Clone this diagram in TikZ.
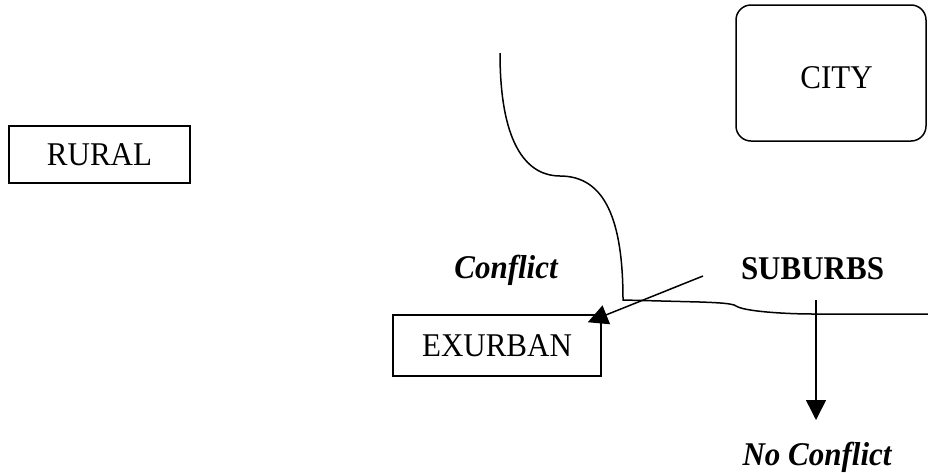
\documentclass[tikz,border=0pt]{standalone}
\usepackage{fontspec}
\usepackage{graphicx}
\setmainfont{Liberation Serif}
\usetikzlibrary{arrows.meta,calc}
\newcommand{\vst}[1]{\scalebox{1}[1.07]{#1}}
\begin{document}
\begin{tikzpicture}[x=1pt,y=-1pt,
  lbl/.style={font=\fontsize{31}{36}\selectfont, inner sep=0pt},
  boxnode/.style={draw, line width=1.5pt, inner sep=0pt, font=\fontsize{31}{36}\selectfont},
  line/.style={line width=1.5pt},
  arr/.style={line width=1.5pt, -{Triangle[length=20pt,width=20pt]}}]
\useasboundingbox (0,0) rectangle (928,472);
% boxes
\node[boxnode, minimum width=181pt, minimum height=57pt] (rural) at (99.5,154.5) {\vst{RURAL}};
\node[boxnode, minimum width=208pt, minimum height=61pt] (exurban) at (497,345.5) {\vst{EXURBAN}};
\node[draw, line width=1.5pt, rounded corners=15pt, minimum width=190pt, minimum height=136pt, inner sep=0pt] (citybox) at (831,73) {};
\node[lbl] (city) at (836.5,77.5) {\vst{CITY}};
% labels
\node[lbl, anchor=base, font=\fontsize{31}{36}\selectfont\bfseries\itshape] (conflict) at (506,278) {\vst{Conflict}};
\node[lbl, anchor=base, font=\fontsize{31}{36}\selectfont\bfseries] (suburbs) at (812.5,279) {\vst{SUBURBS}};
\node[lbl, anchor=base, font=\fontsize{31}{36}\selectfont\bfseries\itshape] (noconf) at (817,465) {\vst{No Conflict}};
% boundary curve
\draw[line] (500,53) .. controls (500,150) and (530,176) .. (560,176)
  .. controls (605,176) and (623,220) .. (623,300)
  -- (700,302) .. controls (728,303) and (734,304) .. (738,307)
  .. controls (750,312) and (790,314) .. (813,314) -- (928,314);
% arrows
\coordinate (a1) at (703,276);
\coordinate (a2) at ($(exurban.north east)+(-14,8)$);
\draw[arr] (a1) -- (a2);
\coordinate (b1) at (816,300);
\coordinate (b2) at (816,420);
\draw[arr] (b1) -- (b2);
\end{tikzpicture}
\end{document}
